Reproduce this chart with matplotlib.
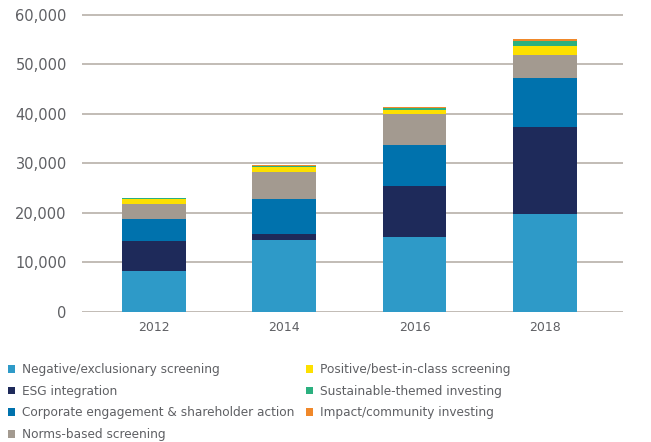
import matplotlib.pyplot as plt
from matplotlib.patches import Patch

# years and stacked values (USD billions), bottom to top
years = ["2012", "2014", "2016", "2018"]
negative = [8280, 14390, 15023, 19771]
esg = [5935, 1350, 10369, 17544]
corporate = [4589, 7045, 8365, 9835]
norms = [3038, 5534, 6210, 4679]
positive = [999, 992, 818, 1842]
themed = [70, 166, 331, 1018]
impact = [89, 109, 248, 444]

labels = ["Negative/exclusionary screening", "ESG integration",
          "Corporate engagement & shareholder action", "Norms-based screening",
          "Positive/best-in-class screening", "Sustainable-themed investing",
          "Impact/community investing"]
colors = ["#2e9ac8", "#1e2a5a", "#0072ad", "#a39a90",
          "#fde000", "#2bb07f", "#f0882a"]
series = [negative, esg, corporate, norms, positive, themed, impact]

text_col = "#5f6064"
grid_col = "#bdb6b0"

fig = plt.figure(figsize=(6.51, 4.42), dpi=100)
ax = fig.add_axes([82 / 651, 1 - 311.7 / 442, (623 - 82) / 651, 299.5 / 442])

x = list(range(len(years)))
bottom = [0] * len(years)
for vals, col in zip(series, colors):
    ax.bar(x, vals, width=0.49, bottom=bottom, color=col, zorder=3)
    bottom = [b + v for b, v in zip(bottom, vals)]

ax.set_xlim(-0.553, 3.6)
ax.set_ylim(0, 60500)
yt = list(range(0, 60001, 10000))
ax.set_yticks(yt)
ax.set_yticklabels([f"{v:,}" for v in yt])
ax.set_xticks(x)
ax.set_xticklabels(years)
for v in yt:
    ax.axhline(v, color=grid_col, lw=1.3, zorder=1)

for s in ax.spines.values():
    s.set_visible(False)
ax.tick_params(axis="both", length=0, colors=text_col)
ax.tick_params(axis="y", labelsize=10.5, pad=11)
ax.tick_params(axis="x", labelsize=9, pad=7)

handles = [Patch(facecolor=c, edgecolor="none") for c in colors]
kw = dict(frameon=False, fontsize=8.7, handlelength=0.62, handleheight=0.62,
          handletextpad=0.55, labelspacing=0.72, borderaxespad=0, borderpad=0,
          labelcolor=text_col)
fig.legend(handles[:4], labels[:4], loc="upper left",
           bbox_to_anchor=(8 / 651, 1 - 363 / 442), **kw)
fig.legend(handles[4:], labels[4:], loc="upper left",
           bbox_to_anchor=(306 / 651, 1 - 363 / 442), **kw)

fig.savefig("out.png", dpi=100)
